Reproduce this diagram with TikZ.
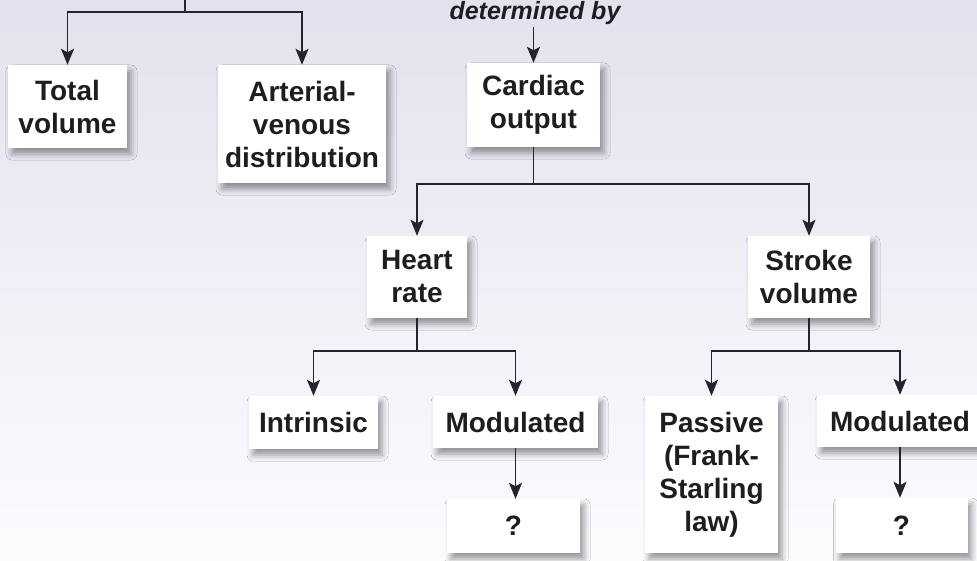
\documentclass[tikz,border=0pt]{standalone}
\usepackage{fontspec}
\setmainfont{Liberation Sans}
\usetikzlibrary{arrows.meta,shadows.blur}
\definecolor{bgtop}{RGB}{226,226,238}
\definecolor{bgbot}{RGB}{252,252,255}
\definecolor{ink}{RGB}{30,30,34}
\definecolor{linec}{RGB}{36,36,44}
\begin{document}
\begin{tikzpicture}[x=1pt,y=-1pt,
  box/.style={rectangle, fill=white, inner sep=0pt, align=center, text=ink,
    font=\fontsize{28}{33}\selectfont\bfseries,
    blur shadow={shadow xshift=4pt,shadow yshift=-6pt,shadow blur radius=6pt,shadow opacity=40}},
  conn/.style={draw=linec, line width=1.8pt},
  arr/.style={conn, -{Stealth[length=16pt,width=13pt,inset=3.5pt]}}]
\useasboundingbox (0,0) rectangle (977,561);
\shade[top color=bgtop,bottom color=bgbot] (0,0) rectangle (977,561);

\node[box, minimum width=119pt, minimum height=83pt] (tv) at (67.5,106.5) {Total\\volume};
\node[box, minimum width=168pt, minimum height=118pt] (av) at (302,124) {Arterial-\\venous\\distribution};
\node[box, minimum width=133pt, minimum height=84pt] (co) at (533.5,105) {Cardiac\\output};
\node[box, minimum width=100pt, minimum height=82pt] (hr) at (417,277) {Heart\\rate};
\node[box, minimum width=122pt, minimum height=82pt] (sv) at (809,277) {Stroke\\volume};
\node[box, minimum width=129pt, minimum height=53pt] (in) at (313.5,422.5) {Intrinsic};
\node[box, minimum width=165pt, minimum height=52pt] (m1) at (515.5,422) {Modulated};
\node[box, minimum width=133pt, minimum height=54pt] (q1) at (513.5,526) {?};
\node[box, minimum width=133pt, minimum height=157pt] (pa) at (711.5,474.5) {Passive\\(Frank-\\Starling\\law)};
\node[box, minimum width=166pt, minimum height=52pt] (m2) at (900,421) {Modulated};
\node[box, minimum width=132pt, minimum height=55pt] (q2) at (901.5,525.5) {?};

\node[font=\fontsize{25}{30}\selectfont\bfseries\itshape, text=ink, anchor=base, inner sep=0pt] (det) at (535,20) {determined by};

\coordinate (top) at (185,0);
\coordinate (j1) at (185,12);
\draw[conn] (top) -- (j1);
\draw[arr] (j1) -| (tv.north);
\draw[arr] (j1) -| (av.north);

\draw[arr, shorten <=2pt] (det.south -| co.north) -- (co.north);

\coordinate (j2) at (533.5,184);
\draw[conn] (co.south) -- (j2);
\draw[arr] (j2) -| (hr.north);
\draw[arr] (j2) -| (sv.north);

\coordinate (j3) at (417,351);
\draw[conn] (hr.south) -- (j3);
\draw[arr] (j3) -| (in.north);
\draw[arr] (j3) -| (m1.north);

\coordinate (j4) at (809,351);
\draw[conn] (sv.south) -- (j4);
\draw[arr] (j4) -| (pa.north);
\draw[arr] (j4) -| (m2.north);

\draw[arr] (m1.south) -- (m1.south |- q1.north);
\draw[arr] (m2.south) -- (m2.south |- q2.north);
\end{tikzpicture}
\end{document}
